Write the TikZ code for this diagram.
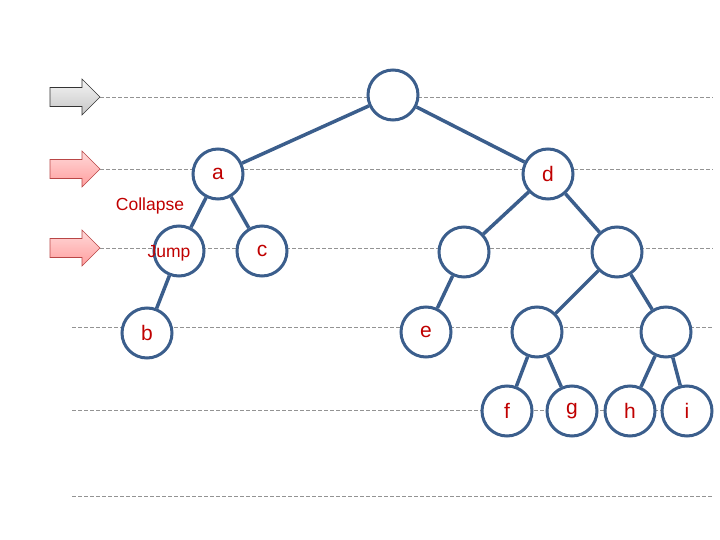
\documentclass[tikz,border=0pt]{standalone}
\usepackage{fontspec}
\setmainfont{Liberation Sans}
\usetikzlibrary{arrows.meta,positioning,calc}

\definecolor{treeblue}{HTML}{3B5E8C}
\definecolor{labelred}{HTML}{C00000}

\begin{document}
\begin{tikzpicture}[x=1pt,y=-1pt]
\tikzset{
  vertex/.style={circle, draw=treeblue, line width=3pt, fill=white,
    minimum size=50pt, inner sep=0pt, text=labelred,
    font=\fontsize{21}{25}\selectfont},
  tree/.style={draw=treeblue, line width=3.5pt},
  level/.style={draw=gray!85, line width=0.8pt, dash pattern=on 4pt off 2pt},
  note/.style={text=labelred, font=\fontsize{17.5}{21}\selectfont, inner sep=0pt},
  grayarrow/.style={draw=black!80, line width=0.6pt, top color=gray!8, bottom color=gray!45},
  pinkarrow/.style={draw=red!45!gray, line width=0.6pt, top color=red!15, bottom color=red!38}
}
\useasboundingbox (0,0) rectangle (720,540);

\foreach \y in {97,169,248}
  \draw[level] (100,\y) -- (713,\y);
\foreach \y in {327,410,496}
  \draw[level] (72,\y) -- (713,\y);

\foreach \y/\sty in {97/grayarrow,169/pinkarrow,248/pinkarrow}
  \shade[\sty] (50,\y-9.5) -- ++(32,0) -- ++(0,-8.5) -- ++(18,18)
    -- ++(-18,18) -- ++(0,-8.5) -- ++(-32,0) -- cycle;

\node[vertex] (root) at (393,95) {};
\node[vertex] (a) at (218,174) {a};
\node[vertex] (d) at (548,174) {d};
\node[vertex] (jump) at (179,251) {};
\node[vertex] (c) at (262,251) {c};
\node[vertex] (l) at (464,252) {};
\node[vertex] (r) at (617,252) {};
\node[vertex] (b) at (147,333) {b};
\node[vertex] (e) at (426,332) {e};
\node[vertex] (rl) at (537,332) {};
\node[vertex] (rr) at (666,332) {};
\node[vertex] (f) at (507,411) {f};
\node[vertex] (g) at (572,411) {g};
\node[vertex] (h) at (630,411) {h};
\node[vertex] (i) at (687,411) {i};

\draw[tree] (root) -- (a);
\draw[tree] (root) -- (d);
\draw[tree] (a) -- (jump);
\draw[tree] (a) -- (c);
\draw[tree] (jump) -- (b);
\draw[tree] (d) -- (l);
\draw[tree] (d) -- (r);
\draw[tree] (l) -- (e);
\draw[tree] (r) -- (rl);
\draw[tree] (r) -- (rr);
\draw[tree] (rl) -- (f);
\draw[tree] (rl) -- (g);
\draw[tree] (rr) -- (h);
\draw[tree] (rr) -- (i);

\node[note] (collapse) at (150,206) {Collapse};
\node[note] (jumptext) at (169,253) {Jump};
\end{tikzpicture}
\end{document}
